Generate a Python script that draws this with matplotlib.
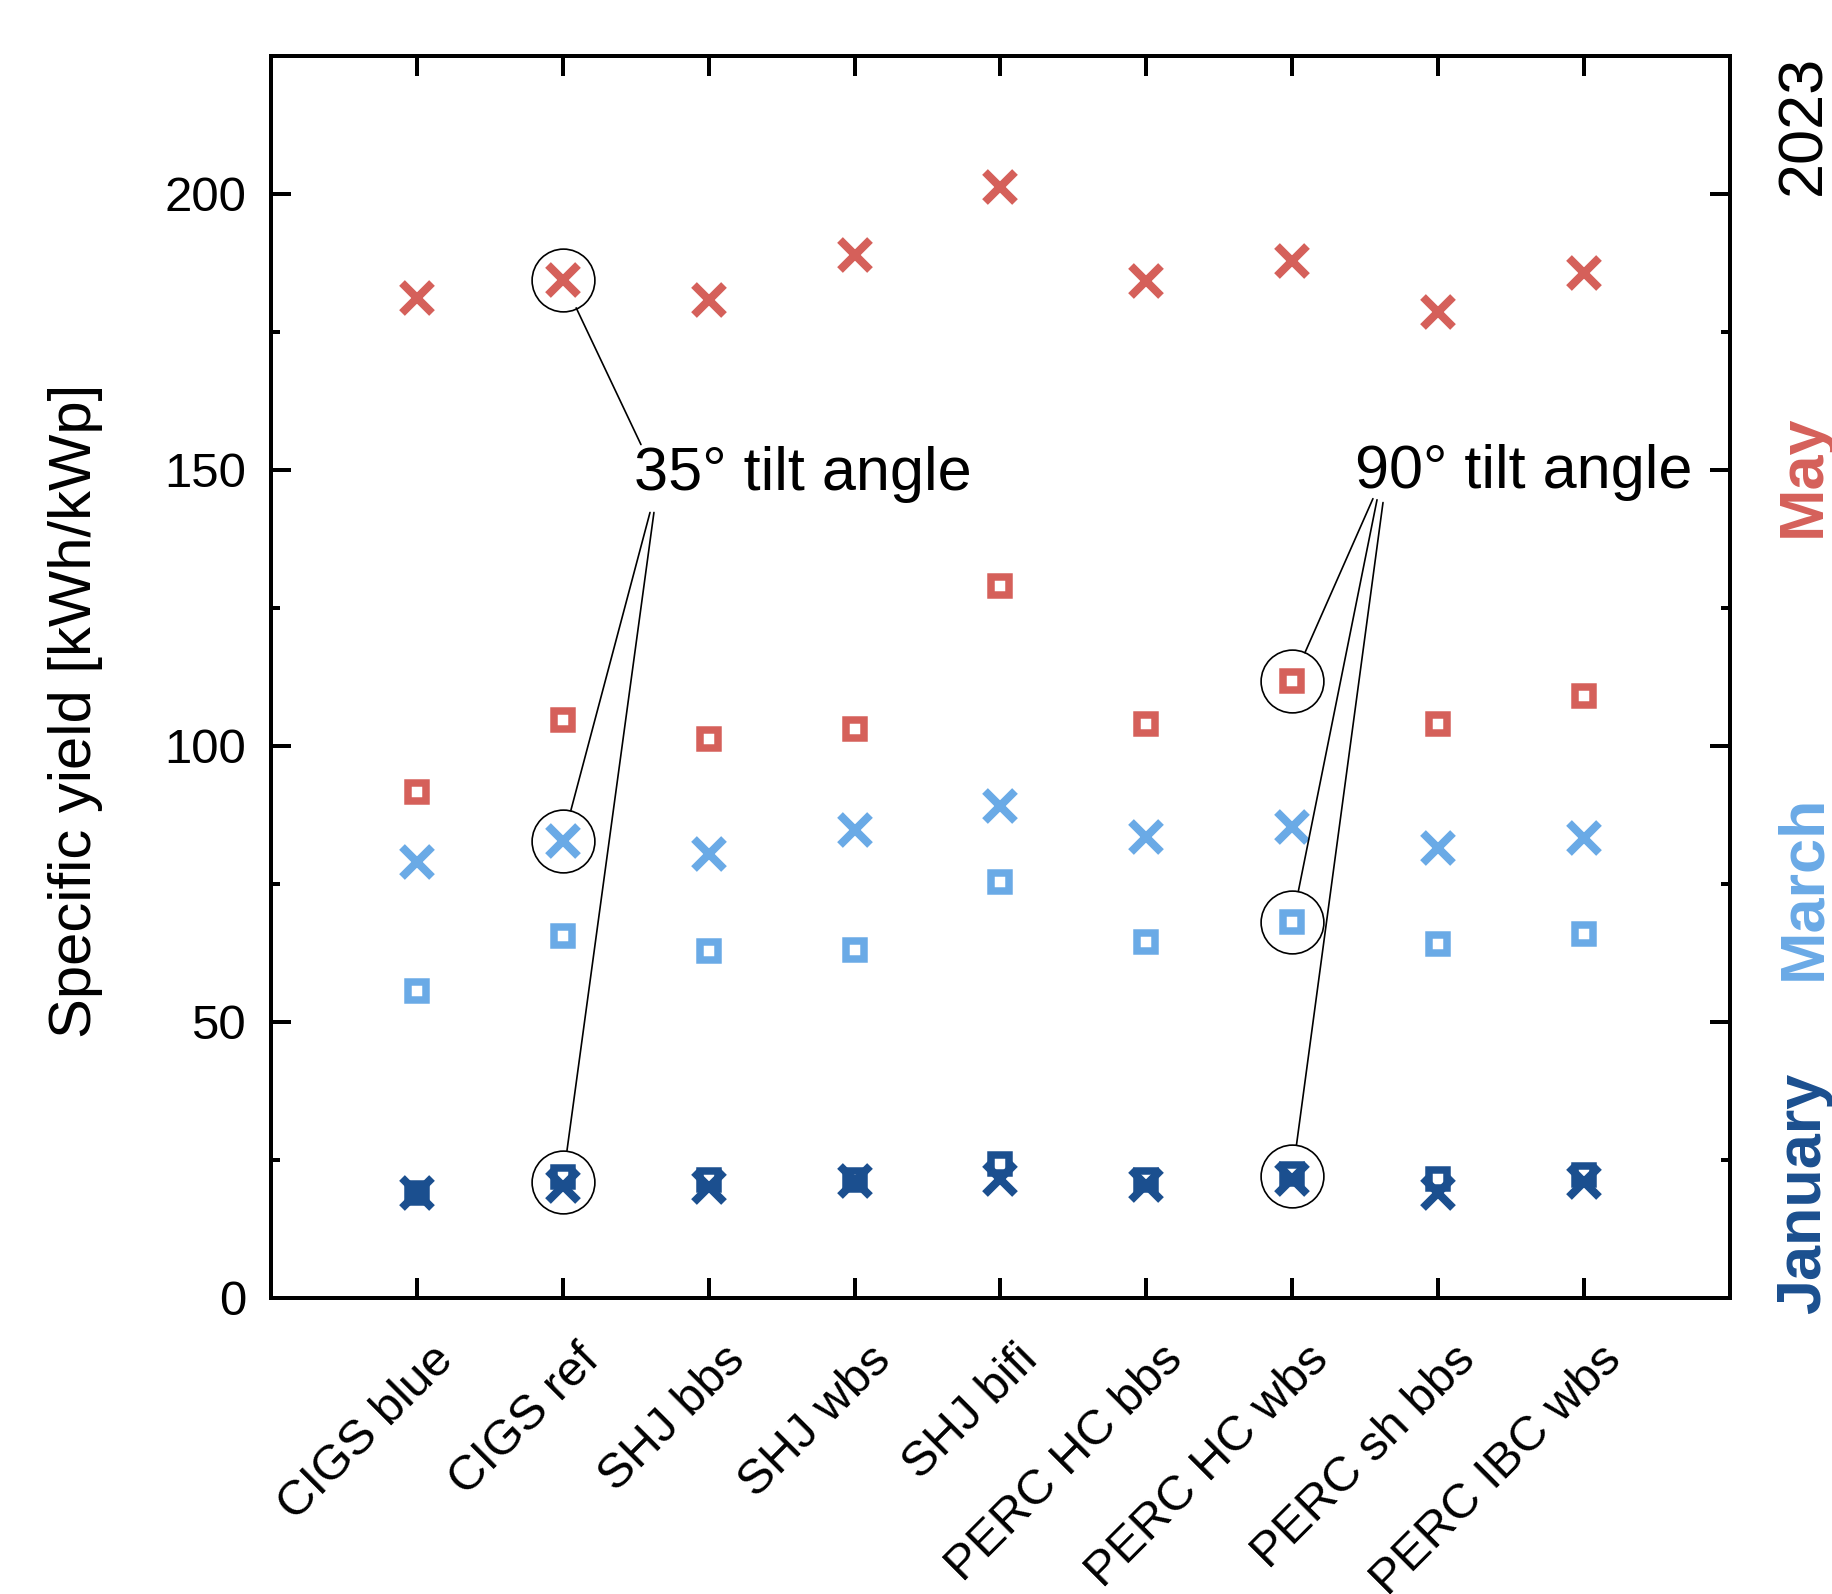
import matplotlib
matplotlib.use("Agg")
import matplotlib.pyplot as plt
from matplotlib.ticker import MultipleLocator, FixedLocator
import matplotlib.transforms as mtransforms

plt.rcParams['font.family'] = ['Liberation Sans', 'DejaVu Sans']

# modules on the x axis
modules = ["CIGS blue", "CIGS ref", "SHJ bbs", "SHJ wbs", "SHJ bifi",
           "PERC HC bbs", "PERC HC wbs", "PERC sh bbs", "PERC IBC wbs"]

# specific yield [kWh/kWp], 35 deg tilt (x) and 90 deg tilt (square)
may_35 = [181.1, 184.5, 180.7, 189.0, 201.3, 184.3, 187.9, 178.6, 185.6]
may_90 = [91.7, 104.7, 101.3, 103.0, 129.0, 104.0, 111.7, 104.0, 109.1]
march_35 = [79.0, 82.8, 80.5, 84.7, 89.2, 83.5, 85.4, 81.6, 83.3]
march_90 = [55.7, 65.5, 62.9, 63.1, 75.4, 64.4, 68.2, 64.2, 65.9]
jan_35 = [19.0, 20.3, 20.1, 21.2, 21.6, 20.5, 21.6, 19.0, 21.0]
jan_90 = [19.1, 21.9, 21.3, 21.4, 24.3, 21.3, 22.5, 21.6, 22.2]

c_may = "#d5605a"
c_march = "#6aaae6"
c_jan = "#1b4f8f"

x = list(range(1, len(modules) + 1))

fig = plt.figure(figsize=(9.16, 7.97), dpi=200)
ax = fig.add_axes([0.1479, 0.1857, 0.9443 - 0.1479, 0.9649 - 0.1857])

sq = dict(marker='s', linestyle='none', markersize=6.7, markeredgewidth=2.7,
          markerfacecolor='none')
cross = dict(marker='x', linestyle='none', markersize=10.5, markeredgewidth=2.9)

for v35, v90, col in [(jan_35, jan_90, c_jan), (march_35, march_90, c_march),
                      (may_35, may_90, c_may)]:
    ax.plot(x, v90, color=col, **sq)
    ax.plot(x, v35, color=col, **cross)

# highlighted points (circles); January circles sit between both markers
circ_r = 11.3  # points
hl_35 = [(2, may_35[1]), (2, march_35[1]), (2, (jan_35[1] + jan_90[1]) / 2)]
hl_90 = [(7, may_90[6]), (7, march_90[6]), (7, (jan_35[6] + jan_90[6]) / 2)]
for px, py in hl_35 + hl_90:
    ax.plot([px], [py], marker='o', markersize=2 * circ_r, markerfacecolor='none',
            markeredgecolor='black', markeredgewidth=0.6, linestyle='none')

ax.text(2.49, 149.2, "35° tilt angle", fontsize=22, ha='left', va='center')
ax.text(7.43, 149.6, "90° tilt angle", fontsize=22, ha='left', va='center')

line_kw = dict(arrowstyle='-', lw=0.6, color='black', shrinkA=0, shrinkB=circ_r)
starts_35 = [(2.536, 154.6), (2.598, 142.3), (2.625, 142.3)]
starts_90 = [(7.553, 144.8), (7.581, 144.6), (7.622, 144.1)]
for (sx, sy), pt in zip(starts_35 + starts_90, hl_35 + hl_90):
    ax.annotate("", xy=pt, xytext=(sx, sy), arrowprops=line_kw)

ax.set_xlim(0, 10)
ax.set_ylim(0, 225)
ax.xaxis.set_major_locator(FixedLocator(x))
ax.set_xticklabels(modules)
ax.yaxis.set_major_locator(MultipleLocator(50))
ax.yaxis.set_minor_locator(MultipleLocator(25))

for s in ax.spines.values():
    s.set_linewidth(1.44)
ax.tick_params(which='major', direction='in', length=7.2, width=1.44,
               top=True, right=True, labelsize=17.7, pad=9)
ax.tick_params(which='minor', direction='in', length=3.3, width=1.44,
               right=True, left=True)

offset = mtransforms.ScaledTranslation(0.07, -0.07, fig.dpi_scale_trans)
for lab in ax.get_xticklabels():
    lab.set_rotation(45)
    lab.set_ha('right')
    lab.set_va('top')
    lab.set_rotation_mode('anchor')
    lab.set_transform(lab.get_transform() + offset)

ax.set_ylabel("Specific yield [kWh/kWp]", fontsize=21.5)
ax.yaxis.set_label_coords(-0.115, 0.473)

# month labels on the right
trans = mtransforms.blended_transform_factory(ax.transAxes, ax.transData)
side = [("2023", 212.5, "black", "normal"), ("May", 149.0, c_may, "bold"),
        ("March", 74.4, c_march, "bold"), ("January", 18.9, c_jan, "bold")]
for txt, yy, col, fw in side:
    ax.text(1.0617, yy, txt, transform=trans, rotation=90, color=col,
            fontweight=fw, fontsize=22.7, ha='center', va='baseline',
            rotation_mode='anchor')

fig.savefig("out.png", dpi=200)
